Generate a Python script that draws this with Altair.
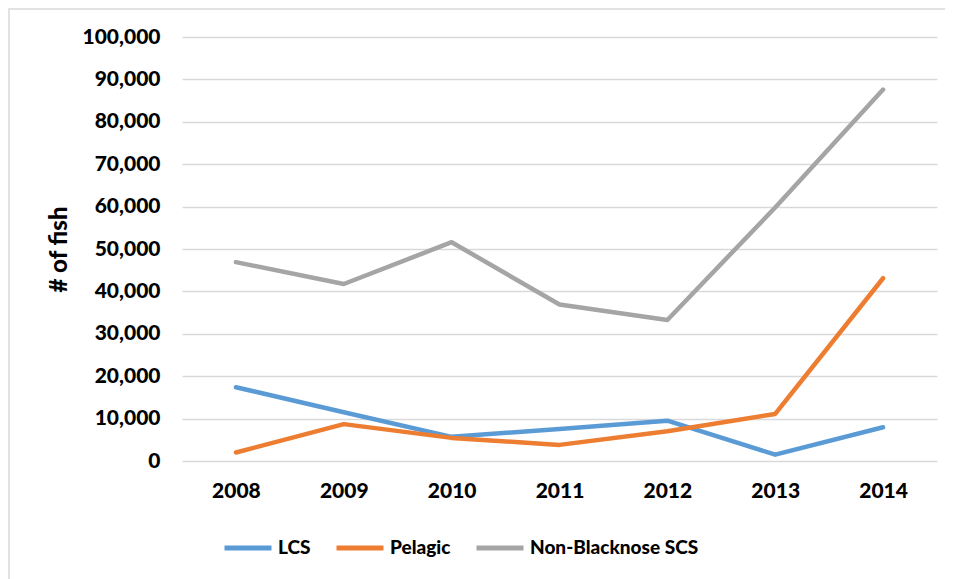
import altair as alt
import pandas as pd

years = ["2008", "2009", "2010", "2011", "2012", "2013", "2014"]
series_names = ["LCS", "Pelagic", "Non-Blacknose SCS"]
lcs = [17400, 11500, 5700, 7550, 9500, 1500, 7950]
pelagic = [2000, 8700, 5450, 3800, 7000, 11100, 43100]
non_blacknose = [46900, 41750, 51600, 36900, 33250, 59800, 87600]
colors = ["#5B9BD5", "#ED7D31", "#A5A5A5"]

rows = []
for name, vals in zip(series_names, [lcs, pelagic, non_blacknose]):
    for y, v in zip(years, vals):
        rows.append({"year": y, "series": name, "value": v})
df = pd.DataFrame(rows)

FONT = "Lato"
FS = 21
FW = 900

lines = alt.Chart(df).mark_line(strokeWidth=4.5, strokeCap="round", strokeJoin="round").encode(
    x=alt.X("year:N", sort=years, title=None,
            axis=alt.Axis(labelAngle=0, domain=False, ticks=False, grid=False,
                          labelFont=FONT, labelFontSize=FS, labelFontWeight=FW,
                          labelColor="#000000", labelPadding=19)),
    y=alt.Y("value:Q", scale=alt.Scale(domain=[0, 100000], nice=False), title="# of fish",
            axis=alt.Axis(values=list(range(0, 100001, 10000)), format=",d",
                          domain=False, ticks=False, gridColor="#D9D9D9", gridWidth=1.5,
                          labelFont=FONT, labelFontSize=FS, labelFontWeight=FW,
                          labelColor="#000000", labelPadding=22,
                          titleFont=FONT, titleFontSize=24, titleFontWeight=FW,
                          titleColor="#000000", titlePadding=10)),
    color=alt.Color("series:N", sort=series_names,
                    scale=alt.Scale(domain=series_names, range=colors),
                    legend=alt.Legend(title=None, orient="none", direction="horizontal",
                                      legendX=40, legendY=485,
                                      symbolType="stroke", symbolSize=2209,
                                      symbolStrokeWidth=5, labelFont=FONT,
                                      labelFontSize=19, labelFontWeight=FW,
                                      labelColor="#000000", labelOffset=4,
                                      labelLimit=400, columnPadding=15)),
    order=alt.Order("year:N"),
)

frame = alt.Chart(pd.DataFrame({"a": [0]})).mark_rect(
    fill=None, stroke="#D9D9D9", strokeWidth=1.5
).encode(
    x=alt.value(-173), x2=alt.value(790), y=alt.value(-28), y2=alt.value(560)
)

chart = alt.layer(frame, lines).properties(
    width=755, height=424,
    autosize=alt.AutoSizeParams(type="none"),
    padding={"left": 174, "top": 29, "right": 8, "bottom": 118},
).configure_view(stroke=None)

chart.save("out.html", embed_options={"renderer": "svg", "actions": False})
